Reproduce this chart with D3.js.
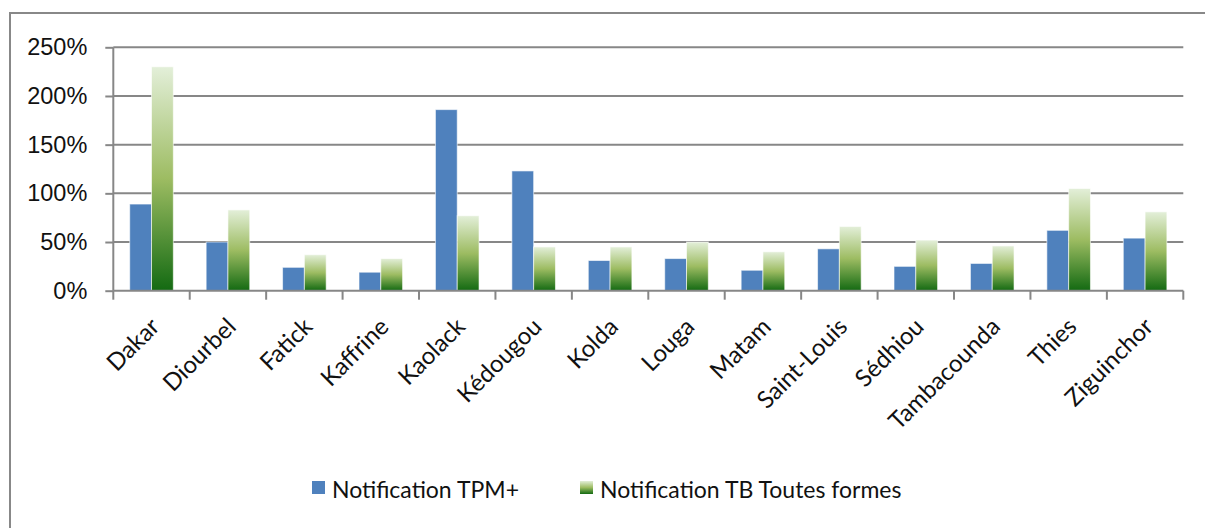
<!DOCTYPE html>
<html>
<head>
<meta charset="utf-8">
<script src="https://cdn.jsdelivr.net/npm/d3@7"></script>
<style>
  html, body { margin: 0; padding: 0; background: #fff; }
  svg { display: block; font-family: Lato, "Open Sans", sans-serif; }
  .grid line { stroke: #878787; stroke-width: 2; }
  .axis path, .axis line { stroke: #878787; stroke-width: 2; }
  .axis text { fill: #111; font-size: 23.5px; }
  .x.axis text { font-size: 24px; }
  .legend text { fill: #111; font-size: 23px; }
</style>
</head>
<body>
<svg id="viz" width="1205" height="528"></svg>
<script>
// DATA
var regions = ["Dakar", "Diourbel", "Fatick", "Kaffrine", "Kaolack", "Kédougou", "Kolda",
    "Louga", "Matam", "Saint-Louis", "Sédhiou", "Tambacounda", "Thies", "Ziguinchor"];
var seriesNames = ["Notification TPM+", "Notification TB Toutes formes"];
var tpm = [0.89, 0.50, 0.24, 0.19, 1.86, 1.23, 0.31, 0.33, 0.21, 0.43, 0.25, 0.28, 0.62, 0.54];
var toutesFormes = [2.30, 0.83, 0.37, 0.33, 0.77, 0.45, 0.45, 0.50, 0.40, 0.66, 0.52, 0.46, 1.05, 0.81];
var yTicks = [0, 0.5, 1, 1.5, 2, 2.5];

(function () {
    'use strict';
    var svg = d3.select("#viz");
    var left = 113.3, right = 1183.3, top = 47.3, bottom = 290.7; //PLOT AREA

    var rows = regions.map(function (r, i) {
        return { region: r, values: [tpm[i], toutesFormes[i]] };
    });

    var x0 = d3.scaleBand().domain(regions).range([left, right]), //SCALES
        x1 = d3.scaleBand().domain([0, 1]).range([0, x0.bandwidth()]).paddingOuter(0.753),
        y = d3.scaleLinear().domain([0, 2.5]).range([bottom, top]);

    // gradient for the green series
    var grad = svg.append("defs").append("linearGradient")
        .attr("id", "greenGrad")
        .attr("x1", 0).attr("y1", 0).attr("x2", 0).attr("y2", 1);
    grad.append("stop").attr("offset", "0%").attr("stop-color", "#e3efd9");
    grad.append("stop").attr("offset", "50%").attr("stop-color", "#9dbc62");
    grad.append("stop").attr("offset", "100%").attr("stop-color", "#136a12");
    var fills = ["#4f81bd", "url(#greenGrad)"];

    // outer frame (only top and left edges show)
    svg.append("path")
        .attr("d", "M10,528V13H1205")
        .attr("fill", "none")
        .attr("stroke", "#888")
        .attr("stroke-width", 2);

    //GRID
    svg.append("g").attr("class", "grid")
        .selectAll("line")
        .data(yTicks.slice(1))
        .enter().append("line")
        .attr("x1", left).attr("x2", right)
        .attr("y1", function (d) { return y(d); })
        .attr("y2", function (d) { return y(d); });

    //BARS
    svg.append("g").selectAll("g")
        .data(rows)
        .enter().append("g")
        .attr("transform", function (d) { return "translate(" + x0(d.region) + ",0)"; })
        .selectAll("rect")
        .data(function (d) { return d.values; })
        .enter().append("rect")
        .attr("x", function (d, i) { return x1(i); })
        .attr("width", x1.bandwidth())
        .attr("y", function (d) { return y(d); })
        .attr("height", function (d) { return bottom - y(d); })
        .attr("fill", function (d, i) { return fills[i]; })
        .attr("stroke", "#fff")
        .attr("stroke-opacity", 0.6)
        .attr("stroke-width", 1);

    //AXES
    var yAxis = d3.axisLeft(y).tickValues(yTicks).tickSize(8).tickPadding(18)
        .tickFormat(d3.format(".0%"));
    svg.append("g")
        .attr("class", "y axis")
        .attr("transform", "translate(" + left + ",0)")
        .call(yAxis)
        .call(function (g) { g.select(".domain").attr("d", "M0," + top + "V" + bottom); });

    var tickPos = regions.map(function (r) { return x0(r); }).concat([right]);
    var xg = svg.append("g").attr("class", "x axis");
    xg.append("line")
        .attr("x1", left).attr("x2", right)
        .attr("y1", bottom).attr("y2", bottom);
    xg.selectAll(".tick")
        .data(tickPos)
        .enter().append("line")
        .attr("class", "tick")
        .attr("x1", function (d) { return d; }).attr("x2", function (d) { return d; })
        .attr("y1", bottom).attr("y2", bottom + 9);
    xg.selectAll("text")
        .data(regions)
        .enter().append("text")
        .attr("transform", function (d) {
            return "translate(" + (x0(d) + x0.bandwidth() / 2 + 1) + "," + (bottom + 29) + ") rotate(-45)";
        })
        .attr("text-anchor", "end")
        .attr("dy", "0.5em")
        .text(function (d) { return d; });

    //LEGEND
    var legend = svg.append("g").attr("class", "legend");
    var legendX = [312, 580];
    seriesNames.forEach(function (name, i) {
        legend.append("rect")
            .attr("x", legendX[i]).attr("y", 481)
            .attr("width", 13).attr("height", 13)
            .attr("fill", fills[i]);
        legend.append("text")
            .attr("x", legendX[i] + 20).attr("y", 498)
            .text(name);
    });
}());
</script>
</body>
</html>
